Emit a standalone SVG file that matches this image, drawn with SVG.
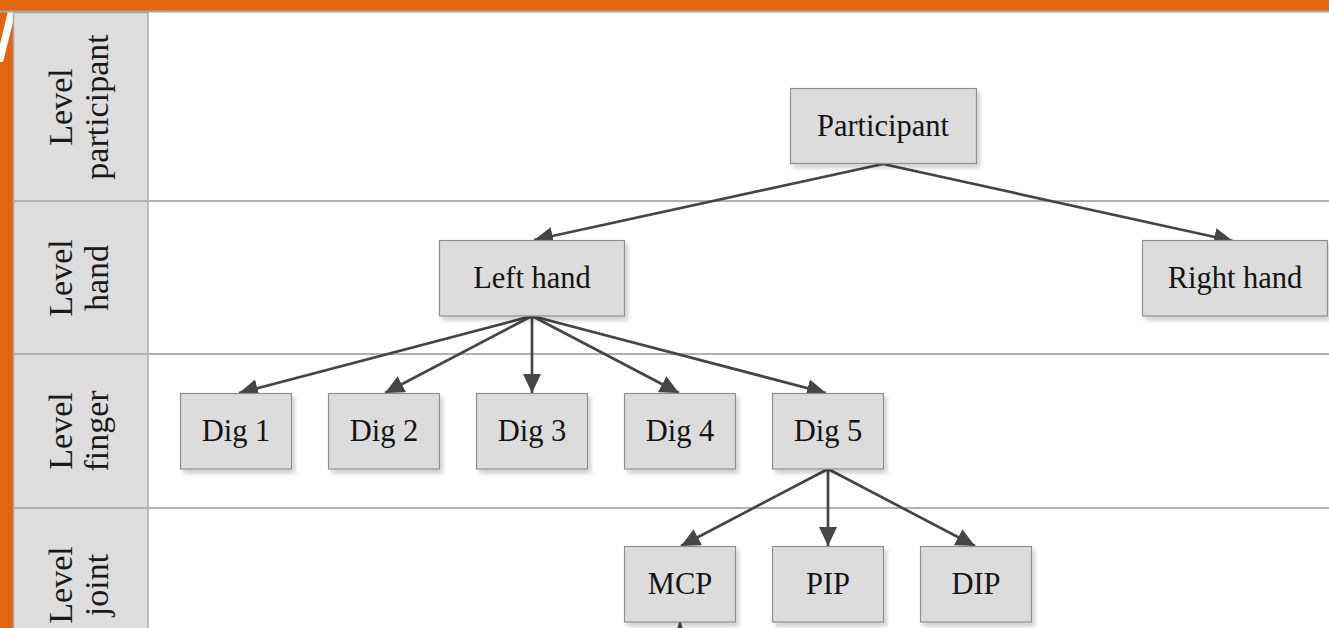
<svg xmlns="http://www.w3.org/2000/svg" width="1329" height="628" viewBox="0 0 1329 628">
  <style>
    .band { fill: #e3650f; }
    .rule { stroke: #b2b2b2; stroke-width: 2; }
    .lane { fill: #dddddd; stroke: #a9a9a9; stroke-width: 1.5; }
    .lbl { font-family: "Liberation Serif", "Times New Roman", serif; font-size: 34px; fill: #1a1a1a; text-anchor: middle; }
    .box { fill: #dcdcdc; stroke: #8f8f8f; stroke-width: 1.2; filter: url(#shadow); }
    .txt { font-family: "Liberation Serif", "Times New Roman", serif; font-size: 30.5px; fill: #141414; text-anchor: middle; }
    .edge { stroke: #454545; stroke-width: 2.7; fill: none; marker-end: url(#head); }
  </style>
  <defs>
    <filter id="shadow" x="-10%" y="-10%" width="130%" height="140%">
      <feDropShadow dx="3" dy="4" stdDeviation="2" flood-color="#000" flood-opacity="0.18"/>
    </filter>
    <marker id="head" markerUnits="userSpaceOnUse" markerWidth="22" markerHeight="22" refX="19" refY="9" orient="auto">
      <path d="M0,0 L19,9 L0,18 z" fill="#454545"/>
    </marker>
  </defs>

  <!-- page background -->
  <rect x="0" y="0" width="1329" height="628" fill="#ffffff"/>

  <!-- orange frame: top band and left strip -->
  <rect class="band" x="0" y="0" width="1329" height="11"/>
  <rect class="band" x="0" y="0" width="14" height="628"/>
  <polygon points="8,11 14,11 14,18 3,62 0,62 0,44" fill="#ffffff"/>
  <line x1="0" y1="11.5" x2="1329" y2="11.5" stroke="#a6a6a6" stroke-width="2"/>

  <!-- level column -->
  <rect class="lane" x="13.5" y="12.5" width="134.5" height="630"/>

  <!-- row separators -->
  <line class="rule" x1="13" y1="201" x2="1329" y2="201"/>
  <line class="rule" x1="13" y1="354" x2="1329" y2="354"/>
  <line class="rule" x1="13" y1="508" x2="1329" y2="508"/>

  <!-- level labels -->
  <g id="level-participant">
    <text class="lbl" transform="translate(72,107) rotate(-90)">Level</text>
    <text class="lbl" transform="translate(108,107) rotate(-90)">participant</text>
  </g>
  <g id="level-hand">
    <text class="lbl" transform="translate(72,278) rotate(-90)">Level</text>
    <text class="lbl" transform="translate(108,278) rotate(-90)">hand</text>
  </g>
  <g id="level-finger">
    <text class="lbl" transform="translate(72,431) rotate(-90)">Level</text>
    <text class="lbl" transform="translate(108,431) rotate(-90)">finger</text>
  </g>
  <g id="level-joint">
    <text class="lbl" transform="translate(72,585) rotate(-90)">Level</text>
    <text class="lbl" transform="translate(108,585) rotate(-90)">joint</text>
  </g>

  <!-- connectors -->
  <g id="connectors">
    <line class="edge" x1="883" y1="164" x2="534" y2="240"/>
    <line class="edge" x1="883" y1="164" x2="1233" y2="241"/>
    <line class="edge" x1="532" y1="316" x2="239" y2="393"/>
    <line class="edge" x1="532" y1="316" x2="385" y2="393"/>
    <line class="edge" x1="532" y1="316" x2="532" y2="393"/>
    <line class="edge" x1="532" y1="316" x2="679" y2="393"/>
    <line class="edge" x1="532" y1="316" x2="826" y2="393"/>
    <line class="edge" x1="828" y1="469" x2="681" y2="546"/>
    <line class="edge" x1="828" y1="469" x2="828" y2="546"/>
    <line class="edge" x1="828" y1="469" x2="975" y2="546"/>
    <line class="edge" x1="680" y1="700" x2="680" y2="622"/>
  </g>

  <!-- nodes -->
  <g id="participant">
    <rect class="box" x="790.5" y="88.5" width="186" height="75"/>
    <text class="txt" x="883" y="136">Participant</text>
  </g>
  <g id="left-hand">
    <rect class="box" x="439.5" y="240.5" width="185" height="75.5"/>
    <text class="txt" x="532" y="288">Left hand</text>
  </g>
  <g id="right-hand">
    <rect class="box" x="1142.5" y="240.5" width="185" height="75.5"/>
    <text class="txt" x="1235" y="288">Right hand</text>
  </g>
  <g id="dig-1">
    <rect class="box" x="180.5" y="393.5" width="111" height="75.5"/>
    <text class="txt" x="236" y="441">Dig 1</text>
  </g>
  <g id="dig-2">
    <rect class="box" x="328.5" y="393.5" width="111" height="75.5"/>
    <text class="txt" x="384" y="441">Dig 2</text>
  </g>
  <g id="dig-3">
    <rect class="box" x="476.5" y="393.5" width="111" height="75.5"/>
    <text class="txt" x="532" y="441">Dig 3</text>
  </g>
  <g id="dig-4">
    <rect class="box" x="624.5" y="393.5" width="111" height="75.5"/>
    <text class="txt" x="680" y="441">Dig 4</text>
  </g>
  <g id="dig-5">
    <rect class="box" x="772.5" y="393.5" width="111" height="75.5"/>
    <text class="txt" x="828" y="441">Dig 5</text>
  </g>
  <g id="mcp">
    <rect class="box" x="624.5" y="546.5" width="111" height="75.5"/>
    <text class="txt" x="680" y="594">MCP</text>
  </g>
  <g id="pip">
    <rect class="box" x="772.5" y="546.5" width="111" height="75.5"/>
    <text class="txt" x="828" y="594">PIP</text>
  </g>
  <g id="dip">
    <rect class="box" x="920.5" y="546.5" width="111" height="75.5"/>
    <text class="txt" x="976" y="594">DIP</text>
  </g>
</svg>
